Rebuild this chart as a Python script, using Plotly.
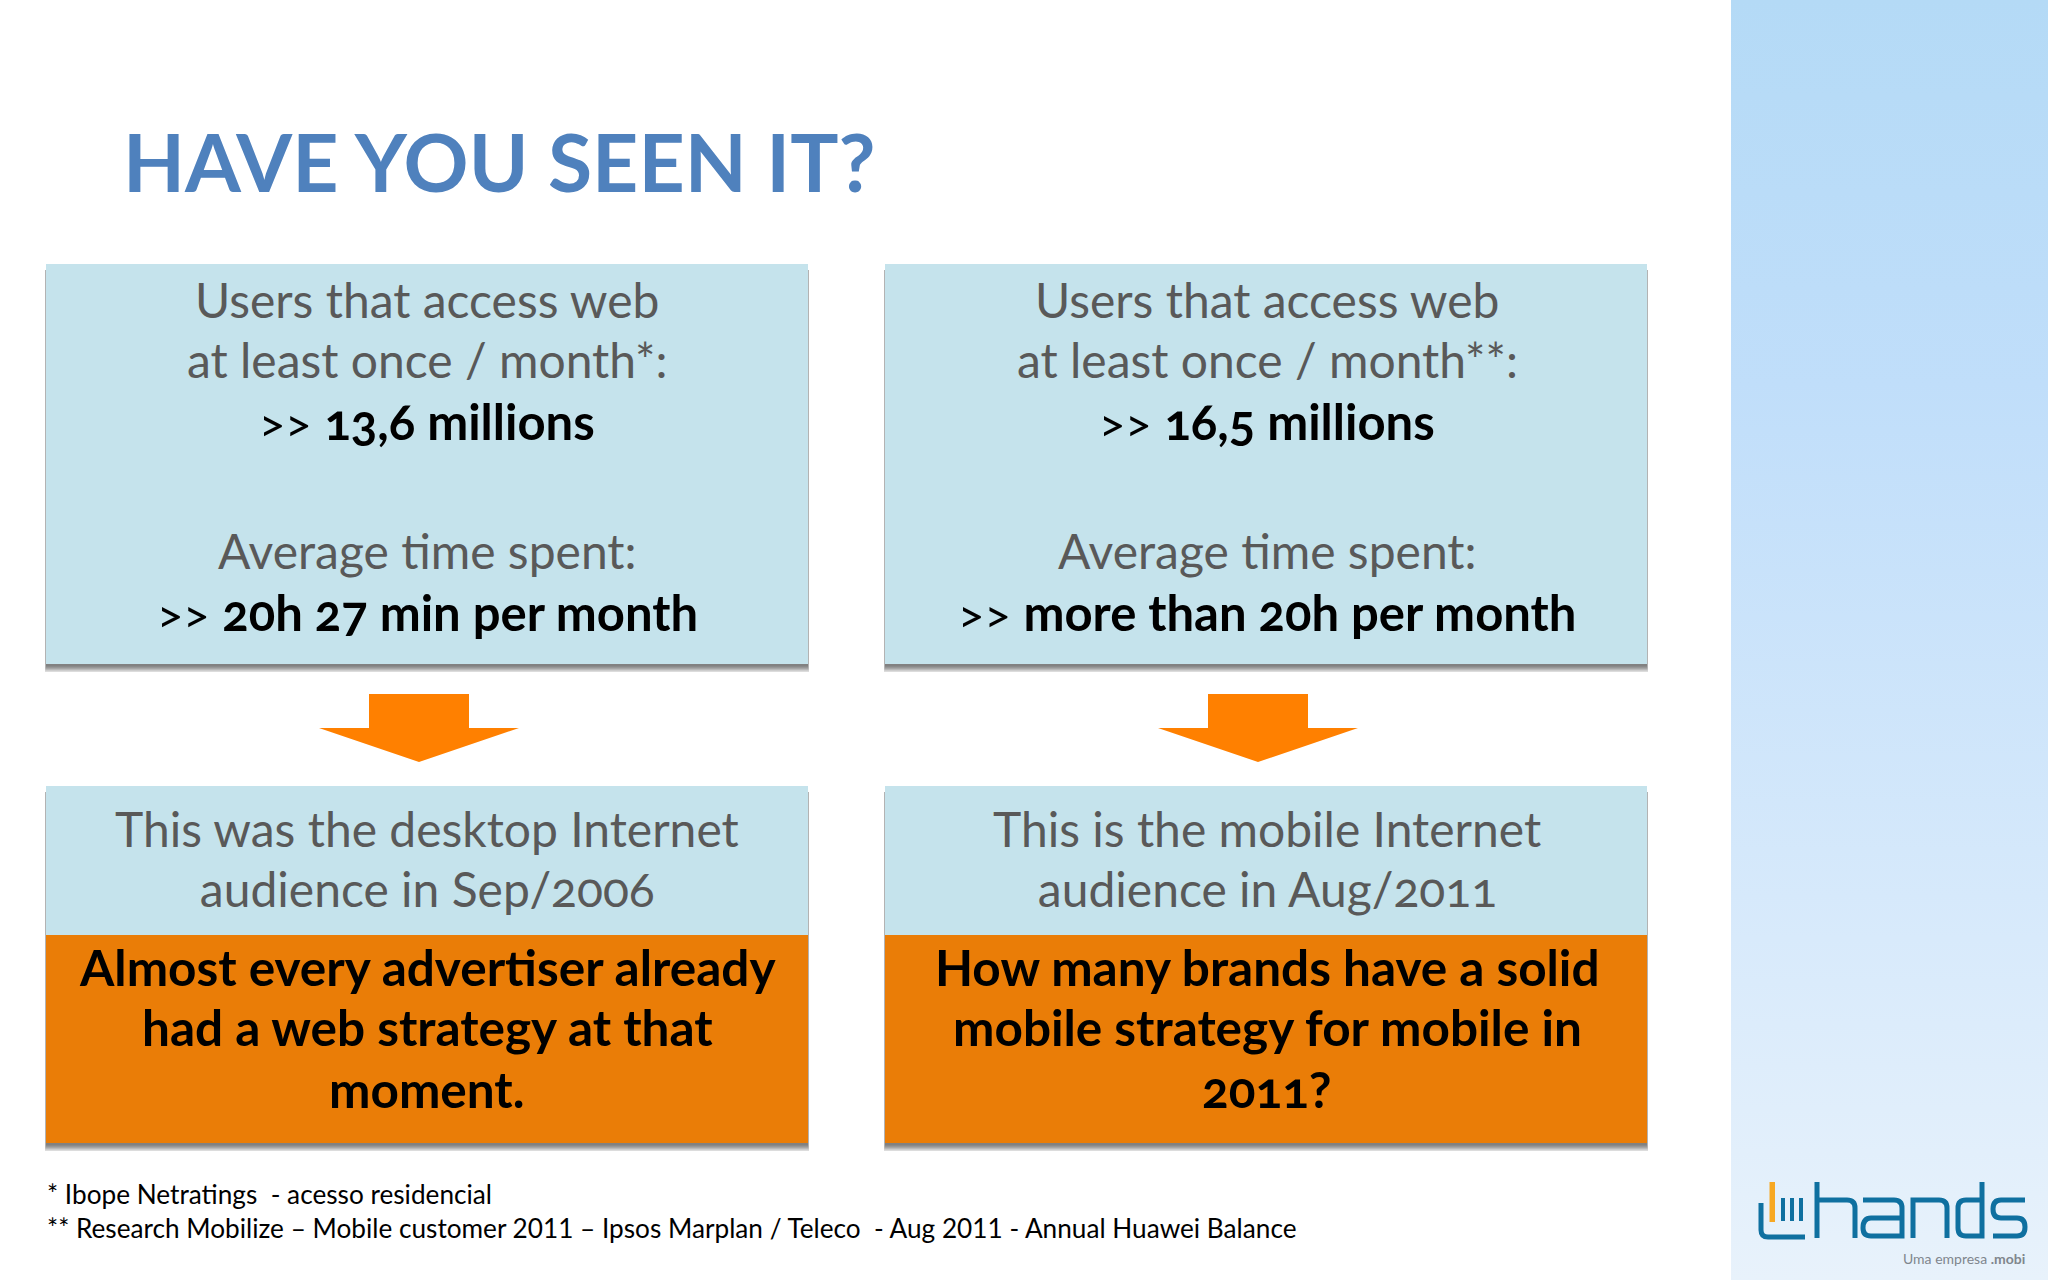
#!/usr/bin/env python3
"""Slide 'Have you seen it?' - desktop vs mobile audience boxes."""

import plotly.graph_objects as go

W, H = 2048, 1280

COLORS = {
    'title': '#4f81bd',
    'box': '#c5e3ec',
    'orange': '#ea7d07',
    'arrow': '#ff8000',
    'grey': '#595959',
    'black': '#000000',
    'logo': '#0f70a0',
    'logo_bar': '#f7a823',
    'logo_text': '#7f868d',
}
FONT = 'Lato'

title_text = 'HAVE YOU SEEN IT?'

top_left_lines = ['Users that access web', 'at least once / month*:',
                  '>> <b>13,6 millions</b>', 'Average time spent:',
                  '>> <b>20h 27 min per month</b>']
top_right_lines = ['Users that access web', 'at least once / month**:',
                   '>> <b>16,5 millions</b>', 'Average time spent:',
                   '>> <b>more than 20h per month</b>']
mid_left_lines = ['This was the desktop Internet', 'audience in Sep/2006']
mid_right_lines = ['This is the mobile Internet', 'audience in Aug/2011']
low_left_lines = ['Almost every advertiser already', 'had a web strategy at that', 'moment.']
low_right_lines = ['How many brands have a solid', 'mobile strategy for mobile in', '2011?']
footnotes = ['* Ibope Netratings  - acesso residencial',
             '** Research Mobilize \u2013 Mobile customer 2011 \u2013 Ipsos Marplan / Teleco  - Aug 2011 - Annual Huawei Balance']

# gradient of the side panel, top to bottom
panel_colors = [[0, '#b4daf6'], [0.3, '#c0defa'], [0.7, '#d6e9fb'], [1, '#e8f2fb']]

# layout, in picture pixels
box_x = [(46, 808), (885, 1647)]
text_cx = [427, 1267]
arrow_cx = [419, 1258]
top_y = [299, 359, 421, 550, 612]
mid_y = [828, 888]
low_y = [967, 1027, 1089]
foot_y = [1194, 1228]


def rect(x0, y0, x1, y1, color, opacity=1, layer='below'):
    return dict(type='rect', x0=x0, y0=y0, x1=x1, y1=y1, layer=layer, opacity=opacity,
                fillcolor=color, line=dict(width=0))


def shadow(x0, y0, x1, y1):
    # soft band under a box, darkest at its bottom edge
    return [rect(x0 - 1 + i * 0.25, y0 + 6, x1 + 1 - i * 0.25, y1 + 8 - i * 1.4, '#303030', 0.17)
            for i in range(5)]


def line_path(d, color=COLORS['logo'], width=5):
    return dict(type='path', path=d, line=dict(color=color, width=width), layer='above')


def text(x, y, s, size, color, anchor='center'):
    return dict(x=x, y=y, text=s, showarrow=False, xanchor=anchor, yanchor='middle',
                font=dict(family=FONT, size=size, color=color))


shapes = []
for x0, x1 in box_x:
    shapes += shadow(x0, 264, x1, 664)
    shapes += shadow(x0, 786, x1, 1143)
    shapes.append(rect(x0, 264, x1, 664, COLORS['box']))
    shapes.append(rect(x0, 786, x1, 935, COLORS['box']))
    shapes.append(rect(x0, 935, x1, 1143, COLORS['orange']))

for cx in arrow_cx:
    shapes.append(dict(
        type='path', layer='above', fillcolor=COLORS['arrow'], line=dict(width=0),
        path=f'M{cx - 50},694 L{cx + 50},694 L{cx + 50},728 L{cx + 100},728 '
             f'L{cx},762 L{cx - 100},728 L{cx - 50},728 Z'))

# hands logo, drawn as strokes
shapes += [
    rect(1769.5, 1182, 1775, 1222, COLORS['logo_bar'], layer='above'),
    rect(1781, 1198, 1785, 1221, COLORS['logo'], layer='above'),
    rect(1790, 1198, 1794, 1221, COLORS['logo'], layer='above'),
    rect(1799, 1198, 1803, 1221, COLORS['logo'], layer='above'),
    line_path('M1761,1203 L1761,1230 Q1761,1237 1768,1237 L1805,1237'),
    line_path('M1817,1182 L1817,1238 M1817,1200 L1847,1200 Q1855,1200 1855,1208 L1855,1238'),
    line_path('M1863,1200 L1894,1200 Q1902,1200 1902,1208 L1902,1236 L1871,1236 '
              'Q1863,1236 1863,1228 Q1863,1218 1871,1218 L1902,1218'),
    line_path('M1913,1238 L1913,1200 L1939,1200 Q1947,1200 1947,1208 L1947,1238'),
    line_path('M1982,1182 L1982,1236 L1966,1236 Q1958,1236 1958,1228 L1958,1208 '
              'Q1958,1200 1966,1200 L1982,1200'),
    line_path('M2025,1200 L2001,1200 Q1993,1200 1993,1209 Q1993,1218 2001,1218 '
              'L2017,1218 Q2025,1218 2025,1227 Q2025,1236 2017,1236 L1993,1236'),
]

annotations = [text(121, 161, f'<b>{title_text}</b>', 80.5, COLORS['title'], 'left')]
for cx, lines in zip(text_cx, (top_left_lines, top_right_lines)):
    for i, (y, s) in enumerate(zip(top_y, lines)):
        if i in (2, 4):
            annotations.append(text(cx, y, s, 49, COLORS['black']))
        else:
            annotations.append(text(cx, y, s, 48, COLORS['grey']))
for cx, lines in zip(text_cx, (mid_left_lines, mid_right_lines)):
    annotations += [text(cx, y, s, 48, COLORS['grey']) for y, s in zip(mid_y, lines)]
for cx, lines in zip(text_cx, (low_left_lines, low_right_lines)):
    annotations += [text(cx, y, f'<b>{s}</b>', 49.5, COLORS['black']) for y, s in zip(low_y, lines)]
annotations += [text(45, y, s, 26.2, COLORS['black'], 'left') for y, s in zip(foot_y, footnotes)]
annotations.append(text(2027, 1258, 'Uma empresa <b>.mobi</b>', 14, COLORS['logo_text'], 'right'))

fig = go.Figure()
# side panel with its vertical gradient
fig.add_trace(go.Scatter(
    x=[1731, W, W, 1731, 1731], y=[0, 0, H, H, 0], mode='lines', fill='toself',
    line=dict(width=0), hoverinfo='skip', showlegend=False,
    fillgradient=dict(type='vertical', colorscale=panel_colors, start=0, stop=H)))

fig.update_layout(
    width=W, height=H, margin=dict(l=0, r=0, t=0, b=0),
    paper_bgcolor='#ffffff', plot_bgcolor='#ffffff',
    xaxis=dict(range=[0, W], visible=False, fixedrange=True),
    yaxis=dict(range=[H, 0], visible=False, fixedrange=True),
    shapes=shapes, annotations=annotations, showlegend=False,
)

# old-style figures in the big box texts, lining ones stay in the footnotes
fig.write_html('out.html', config=dict(displayModeBar=False), post_script="""
document.body.style.margin = '0';
document.querySelectorAll('.annotation-text').forEach(function (t) {
  if (parseFloat(t.style.fontSize) > 40) { t.style.fontFeatureSettings = '"onum"'; }
});
""")
